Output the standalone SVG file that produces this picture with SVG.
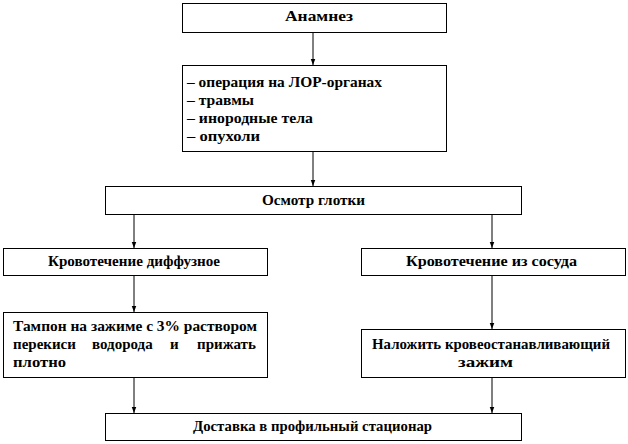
<svg xmlns="http://www.w3.org/2000/svg" width="628" height="444" viewBox="0 0 628 444">
<style>
.box{fill:#fff;stroke:#000;stroke-width:1}
.t{font-family:"Liberation Serif","Times New Roman",Times,"DejaVu Serif",serif;font-size:15px;font-weight:bold;fill:#000}
.ln{stroke:#000;stroke-width:1;fill:none}
</style>
<defs>
<marker id="arr" markerWidth="6" markerHeight="8" refX="8" refY="3" orient="auto" markerUnits="userSpaceOnUse" viewBox="0 0 8 6">
<path d="M0,0 L8,3 L0,6 Z" fill="#000"/>
</marker>
</defs>
<g id="connectors">
<line class="ln" x1="313" y1="32" x2="313" y2="65" marker-end="url(#arr)"/>
<line class="ln" x1="313" y1="151" x2="313" y2="186" marker-end="url(#arr)"/>
<line class="ln" x1="134" y1="214" x2="134" y2="248" marker-end="url(#arr)"/>
<line class="ln" x1="492" y1="214" x2="492" y2="248" marker-end="url(#arr)"/>
<line class="ln" x1="134" y1="275" x2="134" y2="312" marker-end="url(#arr)"/>
<line class="ln" x1="492" y1="275" x2="492" y2="329" marker-end="url(#arr)"/>
<line class="ln" x1="134" y1="377" x2="134" y2="413" marker-end="url(#arr)"/>
<line class="ln" x1="492" y1="377" x2="492" y2="413" marker-end="url(#arr)"/>
</g>
<g id="anamnez">
<rect class="box" x="182.5" y="3.5" width="264" height="29"/>
<text class="t" x="285" y="21" textLength="68" lengthAdjust="spacingAndGlyphs">Анамнез</text>
</g>
<g id="factors">
<rect class="box" x="182.5" y="65.5" width="264" height="86"/>
<text class="t" x="187" y="87" textLength="195" lengthAdjust="spacingAndGlyphs">– операция на ЛОР-органах</text>
<text class="t" x="187" y="105" textLength="67" lengthAdjust="spacingAndGlyphs">– травмы</text>
<text class="t" x="187" y="123" textLength="126" lengthAdjust="spacingAndGlyphs">– инородные тела</text>
<text class="t" x="187" y="141" textLength="73" lengthAdjust="spacingAndGlyphs">– опухоли</text>
</g>
<g id="osmotr">
<rect class="box" x="105.5" y="186.5" width="416" height="28"/>
<text class="t" x="262" y="205" textLength="103" lengthAdjust="spacingAndGlyphs">Осмотр глотки</text>
</g>
<g id="diffuse">
<rect class="box" x="3.5" y="248.5" width="264" height="27"/>
<text class="t" x="48" y="266" textLength="172" lengthAdjust="spacingAndGlyphs">Кровотечение диффузное</text>
</g>
<g id="vessel">
<rect class="box" x="361.5" y="248.5" width="264" height="27"/>
<text class="t" x="406" y="266" textLength="171" lengthAdjust="spacingAndGlyphs">Кровотечение из сосуда</text>
</g>
<g id="tampon">
<rect class="box" x="3.5" y="312.5" width="264" height="65"/>
<text class="t" x="13" y="331" textLength="244" lengthAdjust="spacingAndGlyphs">Тампон на зажиме с 3% раствором</text>
<text class="t" y="349"><tspan x="13">перекиси</tspan> <tspan x="92">водорода</tspan> <tspan x="170">и</tspan> <tspan x="197">прижать</tspan></text>
<text class="t" x="13" y="367" textLength="53" lengthAdjust="spacingAndGlyphs">плотно</text>
</g>
<g id="clamp">
<rect class="box" x="361.5" y="329.5" width="264" height="48"/>
<text class="t" x="372" y="349" textLength="238" lengthAdjust="spacingAndGlyphs">Наложить кровеостанавливающий</text>
<text class="t" x="458" y="367" textLength="55" lengthAdjust="spacingAndGlyphs">зажим</text>
</g>
<g id="delivery">
<rect class="box" x="105.5" y="413.5" width="416" height="27"/>
<text class="t" x="193" y="431" textLength="239" lengthAdjust="spacingAndGlyphs">Доставка в профильный стационар</text>
</g>
</svg>
